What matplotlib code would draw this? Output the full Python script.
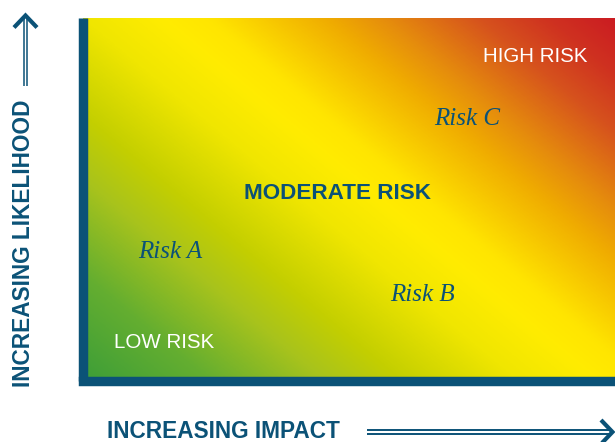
import numpy as np
import matplotlib
matplotlib.use("Agg")
import matplotlib.pyplot as plt
from matplotlib.colors import LinearSegmentedColormap

# risk positions on a 0-10 impact / likelihood scale
risk_names = ["Risk A", "Risk B", "Risk C"]
impact = [1.64, 6.38, 7.23]
likelihood = [3.39, 2.20, 7.06]

zone_labels = ["LOW RISK", "MODERATE RISK", "HIGH RISK"]
x_title = "INCREASING IMPACT"
y_title = "INCREASING LIKELIHOOD"

# green -> yellow -> red along the diagonal
grad_stops = [0.0, 0.13, 0.25, 0.33, 0.45, 0.53, 0.58, 0.70, 0.76, 0.86, 0.93, 1.0]
grad_colors = ["#3d9e38", "#64ae30", "#a8c31c", "#c4cf00", "#f0e600", "#ffec00",
               "#ffe500", "#f0ad00", "#e68e0c", "#d6521d", "#cf3220", "#cb1c22"]

navy = "#0b5277"

fig = plt.figure(figsize=(6.15, 4.42), dpi=100)
ax = fig.add_axes([82.5 / 615, 60.7 / 442, 532.5 / 615, 363 / 442])

cmap = LinearSegmentedColormap.from_list("risk", list(zip(grad_stops, grad_colors)))
u, v = np.meshgrid(np.linspace(0, 1, 400), np.linspace(0, 1, 400))
t = 0.55 * u + 0.45 * v
ax.imshow(t, cmap=cmap, vmin=0, vmax=1, origin="lower", extent=[0, 10, 0, 10],
          aspect="auto", interpolation="bilinear", zorder=0)
ax.set_xlim(0, 10)
ax.set_ylim(0, 10)
ax.set_xticks([])
ax.set_yticks([])

for side in ["top", "right"]:
    ax.spines[side].set_visible(False)
for side in ["left", "bottom"]:
    ax.spines[side].set_color(navy)
    ax.spines[side].set_linewidth(6.8)
    ax.spines[side].set_zorder(5)
ax.spines["bottom"].set_capstyle("projecting")
ax.spines["left"].set_capstyle("butt")

# risk items
for name, x, y in zip(risk_names, impact, likelihood):
    ax.text(x, y, name, ha="center", va="baseline", color=navy,
            family="Liberation Serif", style="italic", fontsize=18)

# zone labels
ax.text(0.153, 0.091, zone_labels[0], transform=ax.transAxes, ha="center", va="baseline",
        color="white", family="Liberation Sans", fontsize=14.8)
ax.text(0.478, 0.502, zone_labels[1], transform=ax.transAxes, ha="center", va="baseline",
        color=navy, family="Liberation Sans", fontweight="bold", fontsize=16.2)
ax.text(0.850, 0.880, zone_labels[2], transform=ax.transAxes, ha="center", va="baseline",
        color="white", family="Liberation Sans", fontsize=14.8)

# axis titles
fig.text(107 / 615, 4 / 442, x_title, ha="left", va="baseline", color=navy,
         family="Liberation Sans", fontweight="bold", fontsize=16.3)
fig.text(30.5 / 615, 55 / 442, y_title, ha="left", va="baseline", rotation=90,
         rotation_mode="anchor", color=navy, family="Liberation Sans",
         fontweight="bold", fontsize=16.3)

# double arrows, overlay in pixel space
ov = fig.add_axes([0, 0, 1, 1], zorder=10)
ov.set_xlim(0, 615)
ov.set_ylim(442, 0)
ov.axis("off")
ov.patch.set_alpha(0)

for xx in [23.5, 27.4]:
    ov.plot([xx, xx], [86, 17], color=navy, lw=1.1, solid_capstyle="butt")
ov.plot([14, 25.5, 37], [27.5, 15.5, 27.5], color=navy, lw=3.0,
        solid_joinstyle="miter", solid_capstyle="butt")

for yy in [430, 434]:
    ov.plot([367.3, 611], [yy, yy], color=navy, lw=1.4, solid_capstyle="butt")
ov.plot([601, 612.5, 601], [420, 432, 444], color=navy, lw=3.0,
        solid_joinstyle="miter", solid_capstyle="butt")

plt.savefig("out.png", dpi=100)
